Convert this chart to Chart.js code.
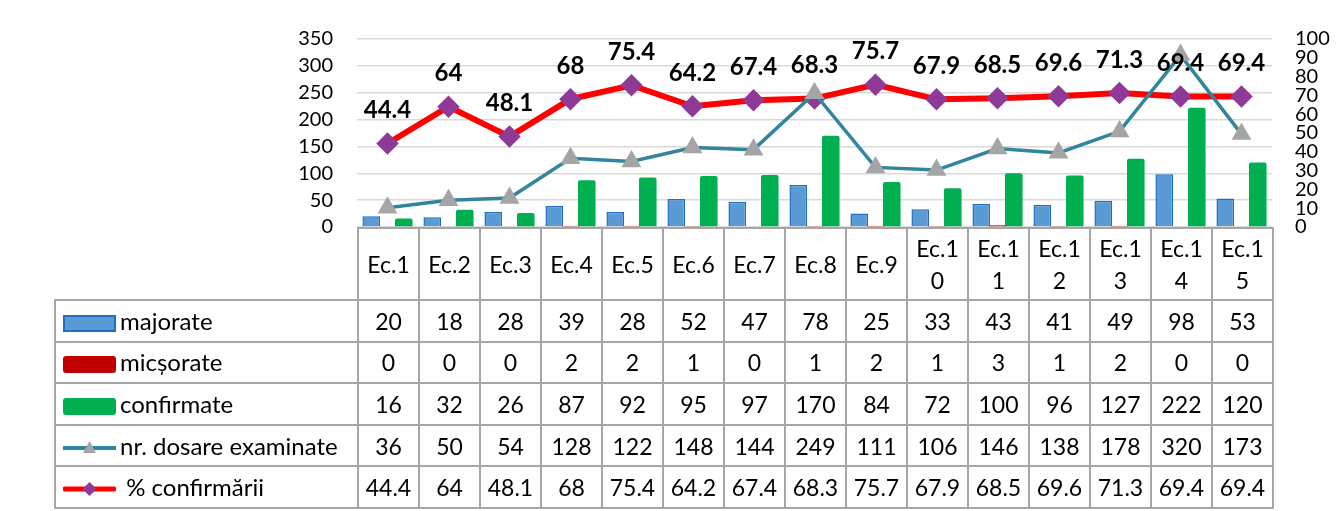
<!DOCTYPE html>
<html>
<head>
<meta charset="utf-8">
<script src="https://cdn.jsdelivr.net/npm/chart.js@4.4.0/dist/chart.umd.min.js"></script>
<style>
  body { margin: 0; background: #fff; font-family: Lato, 'Noto Sans', sans-serif; }
  #wrap { position: relative; width: 1337px; height: 511px; }
  #myChart { position: absolute; left: 0; top: 0; }
  #dataTable {
    position: absolute;
    border-collapse: collapse;
    table-layout: fixed;
    font-size: 23px;
    color: #000;
  }
  #dataTable td {
    border: 2px solid #a6a6a6;
    text-align: center;
    padding: 0;
    line-height: 32px;
  }
  #dataTable td.blank { border-top: none; border-left: none; }
  #dataTable td.name { text-align: left; white-space: nowrap; font-size: 24px; }
  .key { display: inline-block; width: 53px; height: 17px; margin: 0 4px 0 7px; vertical-align: -2px; box-sizing: border-box; }
  svg.key { height: 18px; }
</style>
</head>
<body>
<div id="wrap">
  <canvas id="myChart" width="1337" height="511"></canvas>
  <table id="dataTable"></table>
</div>
<script>
const categories = ['Ec.1', 'Ec.2', 'Ec.3', 'Ec.4', 'Ec.5', 'Ec.6', 'Ec.7', 'Ec.8', 'Ec.9', 'Ec.10', 'Ec.11', 'Ec.12', 'Ec.13', 'Ec.14', 'Ec.15'];
const majorate = [20, 18, 28, 39, 28, 52, 47, 78, 25, 33, 43, 41, 49, 98, 53];
const micsorate = [0, 0, 0, 2, 2, 1, 0, 1, 2, 1, 3, 1, 2, 0, 0];
const confirmate = [16, 32, 26, 87, 92, 95, 97, 170, 84, 72, 100, 96, 127, 222, 120];
const dosare = [36, 50, 54, 128, 122, 148, 144, 249, 111, 106, 146, 138, 178, 320, 173];
const procent = [44.4, 64, 48.1, 68, 75.4, 64.2, 67.4, 68.3, 75.7, 67.9, 68.5, 69.6, 71.3, 69.4, 69.4];

const leftMax = 350, leftStep = 50;
const rightMax = 100, rightStep = 10;

const ctx = document.getElementById('myChart');

// bold value labels above the % line
const pctLabels = {
  id: 'pctLabels',
  afterDatasetsDraw(chart) {
    const meta = chart.getDatasetMeta(4);
    const c = chart.ctx;
    c.save();
    c.font = 'bold 24px Lato';
    c.fillStyle = '#000';
    c.textAlign = 'center';
    c.textBaseline = 'middle';
    meta.data.forEach((pt, i) => {
      c.fillText(String(procent[i]), pt.x, pt.y - 33);
    });
    c.restore();
  },
};

const chart = new Chart(ctx, {
  data: {
    labels: categories,
    datasets: [
      {
        type: 'bar',
        label: 'majorate',
        data: majorate,
        backgroundColor: '#5b9bd5',
        borderColor: '#1f6fc0',
        borderWidth: 1.5,
        yAxisID: 'y',
        order: 3,
      },
      {
        type: 'bar',
        label: 'micșorate',
        data: micsorate,
        backgroundColor: '#c00000',
        yAxisID: 'y',
        order: 3,
      },
      {
        type: 'bar',
        label: 'confirmate',
        data: confirmate,
        backgroundColor: '#00b050',
        borderRadius: 2,
        yAxisID: 'y',
        order: 3,
      },
      {
        type: 'line',
        label: 'nr. dosare examinate',
        data: dosare,
        borderColor: '#31859c',
        borderWidth: 3.5,
        pointStyle: 'triangle',
        pointRadius: 8,
        pointBackgroundColor: '#a5a5a5',
        pointBorderColor: '#a5a5a5',
        yAxisID: 'y',
        order: 1,
      },
      {
        type: 'line',
        label: '% confirmării',
        data: procent,
        borderColor: '#ff0000',
        borderWidth: 6,
        pointStyle: 'rectRot',
        pointRadius: 7,
        pointBackgroundColor: '#8e3a96',
        pointBorderColor: '#8e3a96',
        yAxisID: 'y1',
        order: 2,
      },
    ],
  },
  options: {
    responsive: false,
    animation: false,
    layout: { padding: { top: 39, bottom: 284, left: 0, right: 0 } },
    datasets: {
      bar: { categoryPercentage: 0.8, barPercentage: 1.08 },
    },
    plugins: {
      legend: { display: false },
      tooltip: { enabled: false },
    },
    scales: {
      x: {
        display: false,
        offset: true,
      },
      y: {
        position: 'left',
        min: 0,
        max: leftMax,
        ticks: { stepSize: leftStep, padding: 24, autoSkip: false, color: '#000', font: { family: 'Lato', size: 20 } },
        grid: { color: '#d9d9d9', lineWidth: 1.5, drawTicks: false },
        border: { display: false },
        afterFit(scale) { scale.width = 357; },
      },
      y1: {
        position: 'right',
        min: 0,
        max: rightMax,
        ticks: { stepSize: rightStep, padding: 23, autoSkip: false, color: '#000', font: { family: 'Lato', size: 20 } },
        grid: { drawOnChartArea: false, drawTicks: false },
        border: { display: false },
        afterFit(scale) { scale.width = 65; },
      },
    },
  },
  plugins: [pctLabels],
});

// data table under the plot, columns follow the x scale
function buildTable() {
  const area = chart.chartArea;
  const xs = chart.scales.x;
  const colW = area.width / categories.length;
  const tableLeft = 54;
  const table = document.getElementById('dataTable');
  table.style.left = tableLeft + 'px';
  table.style.top = area.bottom + 'px';
  table.style.width = (area.right - tableLeft) + 'px';

  const cg = document.createElement('colgroup');
  const c0 = document.createElement('col');
  c0.style.width = (xs.getPixelForValue(0) - colW / 2 - tableLeft) + 'px';
  cg.appendChild(c0);
  categories.forEach(() => {
    const c = document.createElement('col');
    c.style.width = colW + 'px';
    cg.appendChild(c);
  });
  table.appendChild(cg);

  const head = document.createElement('tr');
  head.style.height = '72px';
  const blank = document.createElement('td');
  blank.className = 'blank';
  head.appendChild(blank);
  categories.forEach((lab) => {
    const td = document.createElement('td');
    td.innerHTML = lab.length > 4 ? lab.slice(0, 4) + '<br>' + lab.slice(4) : lab;
    head.appendChild(td);
  });
  table.appendChild(head);

  const rows = [
    { name: 'majorate', data: majorate, key: '<span class="key" style="background:#5b9bd5;border:2px solid #1f6fc0"></span>' },
    { name: 'micșorate', data: micsorate, key: '<span class="key" style="background:#c00000;border-radius:3px"></span>' },
    { name: 'confirmate', data: confirmate, key: '<span class="key" style="background:#00b050;border-radius:3px"></span>' },
    { name: 'nr. dosare examinate', data: dosare, key: '<svg class="key" viewBox="0 0 53 18"><line x1="1" y1="9" x2="52" y2="9" stroke="#31859c" stroke-width="4" stroke-linecap="round"/><polygon points="26.5,2 33,14 20,14" fill="#a5a5a5"/></svg>' },
    { name: '&nbsp;% confirmării', data: procent, key: '<svg class="key" viewBox="0 0 53 18"><line x1="2" y1="9" x2="51" y2="9" stroke="#ff0000" stroke-width="5" stroke-linecap="round"/><polygon points="26.5,2 33.5,9 26.5,16 19.5,9" fill="#8e3a96"/></svg>' },
  ];
  rows.forEach((r) => {
    const tr = document.createElement('tr');
    tr.style.height = '41.6px';
    const nm = document.createElement('td');
    nm.className = 'name';
    nm.innerHTML = r.key + r.name;
    tr.appendChild(nm);
    r.data.forEach((v) => {
      const td = document.createElement('td');
      td.textContent = v;
      tr.appendChild(td);
    });
    table.appendChild(tr);
  });
}

buildTable();
</script>
</body>
</html>
